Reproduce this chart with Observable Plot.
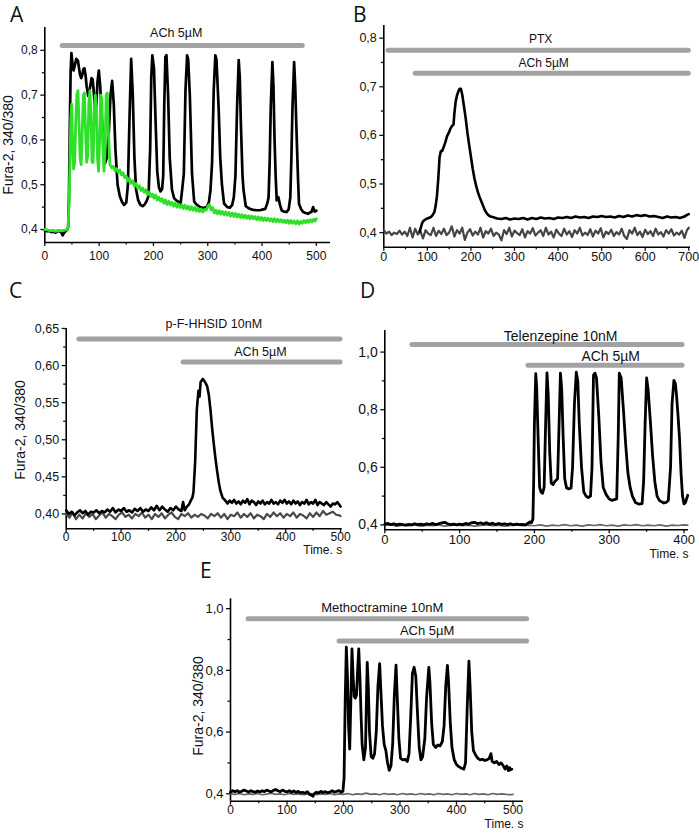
<!DOCTYPE html>
<html>
<head>
<meta charset="utf-8">
<script src="https://cdn.jsdelivr.net/npm/d3@7"></script>
<script src="https://cdn.jsdelivr.net/npm/@observablehq/plot@0.6"></script>
<style>
  html, body { margin: 0; padding: 0; background: #fff; }
  #fig { position: relative; width: 699px; height: 833px; overflow: hidden; background: #fff; }
  .panel { position: absolute; }
  .letter { position: absolute; font-family: "Open Sans", "Noto Sans", sans-serif; font-size: 21px; line-height: 21px; color: #111; }
  .ylab { position: absolute; font-family: Arial, "Liberation Sans", sans-serif; font-size: 14px; color: #111; white-space: nowrap; transform: translate(-50%, -50%) rotate(-90deg); }
</style>
</head>
<body>
<div id="fig"></div>
<script>
// ---------------- DATA ----------------
// Panel A: ACh 5µM, black and green cells
const A_black = [[0,.398],[4,.396],[8,.397],[12,.394],[16,.395],[20,.393],[24,.396],[27,.397],[30,.394],[33,.387],[35,.392],[38,.396],[41,.399],[43,.405],[44.5,.47],[46,.62],[47.5,.75],[49,.794],[51,.77],[53,.755],[55,.765],[58,.781],[61,.777],[63,.76],[65,.745],[67,.738],[69,.745],[71,.758],[73,.76],[75,.745],[77,.72],[80,.698],[83,.715],[86,.738],[88,.735],[90,.71],[93,.66],[95,.68],[97,.73],[99.5,.755],[102,.72],[105,.65],[108,.59],[111,.548],[114,.56],[118,.62],[121,.70],[124,.732],[127,.68],[130,.58],[134,.50],[138,.475],[142,.462],[146,.455],[150,.46],[153,.50],[156,.65],[159,.781],[162,.70],[165,.56],[168,.49],[172,.465],[176,.455],[180,.452],[184,.456],[188,.465],[191,.475],[194,.58],[196,.74],[198,.789],[201,.76],[204,.64],[207,.53],[210,.495],[213,.485],[216,.49],[218,.52],[220,.68],[222,.785],[224,.789],[227,.70],[230,.56],[234,.49],[238,.47],[242,.465],[246,.462],[250,.458],[253,.49],[256,.525],[259,.71],[262,.789],[264,.78],[267,.70],[271,.525],[275,.462],[280,.455],[286,.45],[292,.448],[298,.45],[302,.46],[305,.487],[308,.55],[311,.711],[314,.789],[316,.78],[320,.673],[323,.56],[326,.502],[330,.458],[336,.45],[341,.449],[345,.455],[348,.472],[351,.52],[354,.673],[357,.778],[359,.74],[361,.636],[364,.52],[366,.487],[370,.452],[375,.448],[380,.445],[384,.444],[390,.443],[396,.443],[402,.445],[406,.446],[410,.46],[412,.472],[414,.55],[416,.673],[419,.774],[421,.72],[423,.60],[425,.52],[427,.465],[430,.472],[433,.455],[436,.443],[440,.44],[445,.439],[449,.445],[452,.472],[454,.56],[456,.673],[459,.774],[461,.72],[463,.636],[466,.52],[468,.457],[472,.445],[476,.439],[480,.437],[485,.435],[488,.438],[491,.439],[494,.45],[497,.44],[500,.442]];
const A_green = [[0,.40],[5,.399],[10,.397],[15,.398],[20,.396],[25,.398],[30,.397],[35,.398],[40,.399],[43,.405],[45,.47],[46.5,.56],[48,.65],[49.5,.68],[51,.60],[53,.535],[55,.55],[57,.64],[59,.70],[61,.71],[63,.64],[65,.56],[67,.545],[69,.62],[71,.70],[73,.705],[75,.62],[77,.55],[79,.565],[81,.68],[83,.71],[85,.66],[87,.55],[89,.55],[91,.66],[93,.70],[95,.67],[97,.56],[99,.53],[101,.60],[103,.70],[105,.69],[107,.58],[109,.53],[111,.58],[113,.70],[115,.705],[117,.62],[120,.545],[123,.538],[126,.541],[129,.532],[132,.536],[135,.528],[138,.533],[141,.522],[144,.527],[147,.516],[150,.519],[153,.508],[156,.514],[159,.503],[162,.509],[165,.497],[168,.503],[171,.492],[174,.498],[177,.487],[180,.493],[183,.483],[186,.489],[189,.478],[192,.484],[195,.474],[198,.479],[201,.47],[204,.477],[207,.466],[210,.472],[213,.463],[216,.469],[219,.459],[222,.466],[225,.456],[228,.463],[231,.455],[234,.461],[237,.452],[240,.459],[243,.45],[246,.457],[249,.449],[252,.456],[255,.447],[258,.454],[261,.446],[264,.452],[267,.444],[270,.451],[273,.443],[276,.449],[279,.441],[282,.448],[285,.44],[288,.446],[291,.439],[294,.445],[297,.443],[300,.452],[303,.456],[306,.444],[309,.449],[312,.437],[315,.443],[318,.435],[321,.442],[324,.434],[327,.44],[330,.433],[333,.439],[336,.432],[339,.438],[342,.43],[345,.437],[348,.429],[351,.436],[354,.428],[357,.434],[360,.427],[363,.433],[366,.426],[369,.432],[372,.425],[375,.431],[378,.424],[381,.43],[384,.424],[387,.429],[390,.422],[393,.428],[396,.421],[399,.427],[402,.42],[405,.426],[408,.42],[411,.425],[414,.419],[417,.424],[420,.418],[423,.424],[426,.417],[429,.423],[432,.417],[435,.422],[438,.416],[441,.421],[444,.415],[447,.421],[450,.414],[453,.42],[456,.414],[459,.419],[462,.413],[465,.419],[468,.412],[471,.418],[474,.414],[477,.42],[480,.415],[483,.421],[486,.416],[489,.422],[492,.417],[495,.423],[498,.419],[500,.424]];
const A_bars = [{label: "ACh 5µM", start: 33, end: 475, level: 0.811, labelAt: 242}];

// Panel B: PTX
const B_black = [[82,.402],[85,.41],[88,.42],[92,.425],[97,.428],[103,.43],[108,.432],[112,.436],[116,.442],[119,.455],[122,.475],[125,.51],[128,.555],[131,.568],[134,.568],[137,.575],[141,.585],[145,.598],[149,.605],[153,.614],[157,.62],[160,.622],[162,.645],[165,.67],[168,.682],[171,.69],[174,.696],[177,.696],[180,.684],[184,.66],[188,.635],[192,.605],[196,.58],[200,.556],[204,.532],[208,.512],[212,.496],[216,.483],[220,.473],[224,.464],[228,.455],[232,.446],[236,.44],[240,.436],[245,.433],[250,.432],[260,.429],[270,.428],[280,.43],[290,.427],[300,.429],[310,.428],[320,.43],[330,.427],[340,.43],[350,.428],[360,.431],[370,.429],[380,.43],[390,.428],[400,.431],[410,.43],[420,.432],[430,.43],[440,.433],[450,.431],[460,.432],[470,.43],[480,.433],[490,.432],[500,.434],[510,.432],[520,.433],[530,.431],[540,.434],[550,.432],[560,.435],[570,.433],[580,.436],[590,.434],[600,.436],[610,.433],[620,.434],[630,.432],[640,.43],[650,.433],[660,.431],[670,.432],[680,.43],[690,.433],[695,.436],[700,.438]];
const B_gray = [[0,.405],[6,.398],[12,.402],[18,.395],[24,.40],[30,.397],[36,.404],[42,.396],[48,.402],[54,.393],[60,.41],[66,.39],[72,.408],[78,.396],[84,.403],[90,.388],[96,.405],[102,.398],[108,.395],[114,.41],[120,.393],[126,.404],[132,.397],[138,.408],[144,.395],[150,.40],[156,.413],[162,.392],[168,.405],[174,.398],[180,.41],[186,.385],[192,.40],[198,.407],[204,.394],[210,.402],[216,.396],[222,.41],[228,.39],[234,.403],[240,.398],[246,.408],[252,.393],[258,.40],[264,.396],[270,.384],[276,.405],[282,.397],[288,.41],[294,.392],[300,.404],[306,.399],[312,.395],[318,.407],[324,.39],[330,.403],[336,.398],[342,.409],[348,.394],[354,.40],[360,.405],[366,.393],[372,.41],[378,.396],[384,.402],[390,.39],[396,.406],[402,.398],[408,.393],[414,.408],[420,.396],[426,.403],[432,.391],[438,.405],[444,.398],[450,.41],[456,.394],[462,.40],[468,.395],[474,.407],[480,.392],[486,.404],[492,.398],[498,.409],[504,.39],[510,.402],[516,.397],[522,.406],[528,.393],[534,.401],[540,.396],[546,.408],[552,.393],[558,.387],[564,.405],[570,.398],[576,.41],[582,.395],[588,.402],[594,.391],[600,.406],[606,.397],[612,.403],[618,.393],[624,.408],[630,.396],[636,.401],[642,.392],[648,.405],[654,.398],[660,.407],[666,.394],[672,.40],[678,.396],[684,.404],[690,.389],[696,.405],[700,.41]];
const B_bars = [{label: "PTX", start: 11, end: 700, level: 0.775, labelAt: 360}, {label: "ACh 5µM", start: 73, end: 700, level: 0.728, labelAt: 367}];

// Panel C: p-F-HHSID
const C_black = [[0,.405],[5,.40],[10,.403],[15,.398],[20,.402],[25,.405],[30,.401],[35,.404],[40,.399],[45,.403],[50,.402],[55,.405],[60,.401],[65,.404],[70,.402],[75,.406],[80,.403],[85,.408],[90,.402],[95,.406],[100,.404],[105,.408],[110,.403],[115,.405],[120,.402],[125,.407],[130,.404],[135,.408],[140,.403],[145,.406],[150,.404],[155,.409],[160,.405],[165,.411],[170,.405],[175,.41],[180,.406],[185,.403],[190,.408],[195,.405],[200,.41],[205,.406],[210,.404],[213,.416],[216,.405],[220,.41],[224,.413],[227,.418],[230,.422],[232,.43],[235,.47],[238,.54],[241,.566],[243,.558],[245,.578],[249,.582],[252,.579],[255,.575],[257,.572],[260,.56],[263,.54],[266,.515],[269,.494],[272,.475],[275,.458],[278,.443],[281,.431],[285,.422],[290,.418],[294,.414],[298,.418],[302,.415],[306,.419],[310,.414],[314,.417],[318,.413],[322,.418],[326,.415],[330,.42],[334,.413],[338,.418],[342,.416],[346,.412],[350,.417],[354,.414],[358,.418],[362,.413],[366,.416],[370,.414],[374,.419],[378,.414],[382,.416],[386,.413],[390,.418],[394,.415],[398,.419],[402,.414],[406,.417],[410,.413],[414,.418],[418,.414],[422,.417],[426,.412],[430,.416],[434,.414],[438,.419],[442,.413],[446,.416],[450,.414],[454,.419],[458,.412],[462,.416],[466,.414],[470,.412],[474,.416],[478,.413],[482,.41],[486,.414],[490,.413],[494,.416],[498,.412],[500,.41]];
const C_gray = [[0,.40],[6,.395],[12,.402],[18,.393],[24,.399],[30,.394],[36,.401],[42,.396],[48,.40],[54,.393],[60,.398],[66,.402],[72,.395],[78,.40],[84,.397],[90,.393],[96,.399],[102,.402],[108,.396],[114,.399],[120,.394],[126,.40],[132,.397],[138,.402],[144,.395],[150,.399],[156,.393],[162,.40],[168,.396],[174,.401],[180,.394],[186,.399],[192,.402],[198,.396],[204,.393],[210,.40],[216,.397],[222,.401],[228,.395],[234,.399],[240,.396],[246,.40],[252,.398],[258,.394],[264,.40],[270,.397],[276,.401],[282,.395],[288,.40],[294,.393],[300,.399],[306,.397],[312,.402],[318,.395],[324,.40],[330,.396],[336,.401],[342,.394],[348,.399],[354,.397],[360,.393],[366,.40],[372,.396],[378,.402],[384,.397],[390,.401],[396,.395],[402,.40],[408,.397],[414,.402],[420,.395],[426,.40],[432,.398],[438,.394],[444,.401],[450,.396],[456,.402],[462,.397],[468,.404],[474,.399],[480,.401],[486,.403],[492,.399],[498,.398],[500,.397]];
const C_bars = [{label: "p-F-HHSID 10nM", start: 24, end: 500, level: 0.636, labelAt: 269}, {label: "ACh 5µM", start: 214, end: 500, level: 0.605, labelAt: 354}];

// Panel D: Telenzepine
const D_black = [[0,.402],[4,.405],[8,.401],[12,.404],[16,.40],[20,.403],[24,.401],[28,.399],[32,.402],[36,.40],[40,.404],[44,.401],[48,.403],[52,.40],[56,.404],[60,.402],[64,.405],[68,.401],[72,.404],[76,.407],[80,.409],[84,.404],[88,.401],[92,.403],[96,.40],[100,.403],[104,.401],[108,.405],[112,.402],[116,.408],[120,.409],[124,.404],[128,.407],[132,.403],[136,.408],[140,.402],[144,.406],[148,.401],[152,.405],[156,.402],[160,.404],[164,.401],[168,.404],[172,.40],[176,.403],[180,.401],[184,.402],[188,.40],[191,.405],[194,.41],[196,.408],[198,.42],[199,.55],[200,.75],[201.8,.925],[203,.88],[205,.70],[207,.53],[209,.513],[211,.51],[213,.53],[215,.75],[216.8,.928],[218.5,.85],[220.5,.65],[222.5,.545],[225,.54],[227,.55],[229,.555],[231,.56],[233,.75],[234.8,.927],[236.5,.87],[238.5,.70],[240.5,.56],[243,.528],[246,.525],[249,.528],[251,.60],[253.5,.82],[256,.93],[258,.90],[260,.75],[263,.60],[266,.515],[269,.50],[272,.495],[275,.50],[277,.60],[279,.92],[281,.927],[283,.91],[286,.78],[289,.62],[292,.53],[296,.505],[300,.49],[304,.485],[307,.488],[310,.49],[312,.70],[313.5,.927],[316,.91],[319,.80],[322,.68],[325,.58],[328,.53],[331,.50],[335,.478],[340,.472],[344,.474],[346,.55],[348,.75],[350,.91],[352,.87],[355,.76],[358,.64],[361,.55],[364,.50],[367,.485],[370,.48],[373,.476],[376,.478],[379,.485],[382,.60],[384,.82],[386.5,.902],[388.5,.89],[390,.85],[392,.78],[394,.70],[396,.58],[398,.50],[400,.473],[402,.478],[404,.495],[405,.503]];
const D_gray = [[0,.398],[8,.40],[16,.396],[24,.399],[32,.397],[40,.40],[48,.396],[56,.399],[64,.397],[72,.40],[80,.396],[88,.398],[96,.40],[104,.397],[112,.399],[120,.396],[128,.398],[136,.40],[144,.397],[152,.399],[160,.396],[168,.398],[176,.40],[184,.397],[192,.399],[200,.397],[208,.40],[216,.396],[224,.399],[232,.397],[240,.401],[248,.397],[256,.399],[264,.396],[272,.40],[280,.398],[288,.401],[296,.397],[304,.399],[312,.396],[320,.40],[328,.398],[336,.401],[344,.397],[352,.399],[360,.397],[368,.40],[376,.396],[384,.399],[392,.398],[400,.40],[405,.399]];
const D_bars = [{label: "Telenzepine 10nM", start: 37, end: 398, level: 1.026, labelAt: 235}, {label: "ACh 5µM", start: 192, end: 398, level: 0.954, labelAt: 302}];

// Panel E: Methoctramine
const E_black = [[0,.405],[4,.41],[8,.407],[12,.41],[16,.405],[20,.408],[24,.412],[28,.409],[32,.406],[36,.41],[40,.407],[44,.405],[48,.409],[52,.406],[56,.41],[60,.407],[64,.412],[68,.409],[72,.406],[76,.411],[80,.414],[84,.41],[88,.407],[92,.412],[96,.408],[100,.406],[104,.41],[108,.405],[112,.409],[116,.404],[120,.408],[124,.403],[128,.405],[132,.402],[136,.407],[140,.398],[144,.395],[146,.392],[148,.40],[152,.405],[156,.403],[160,.408],[164,.404],[168,.407],[172,.403],[176,.406],[180,.41],[184,.405],[188,.408],[192,.41],[196,.405],[199,.408],[201,.45],[203,.70],[205,.875],[207,.78],[209,.62],[211,.545],[213,.70],[215,.87],[217,.78],[219,.715],[221,.71],[223,.72],[225,.80],[227,.87],[229,.78],[231,.66],[233,.56],[236,.51],[239,.55],[240.5,.70],[242,.826],[244,.74],[246,.60],[249,.52],[252,.515],[255,.53],[258,.60],[261,.75],[264,.822],[266,.74],[269,.62],[272,.56],[275,.54],[278,.50],[281,.476],[284,.49],[287,.56],[290,.72],[293,.817],[295,.72],[298,.58],[301,.515],[305,.51],[309,.512],[313,.505],[316,.53],[319,.65],[322,.79],[325,.81],[328,.78],[331,.66],[334,.55],[337,.51],[340,.52],[344,.58],[347,.71],[351,.81],[353,.76],[356,.63],[359,.56],[363,.55],[367,.558],[371,.555],[375,.57],[378,.62],[381,.75],[384,.816],[386,.76],[389,.63],[392,.55],[396,.51],[400,.495],[404,.488],[409,.483],[413,.48],[416,.50],[419,.68],[422,.83],[424,.75],[427,.60],[430,.54],[434,.525],[438,.515],[442,.51],[446,.512],[450,.508],[454,.51],[458,.515],[461,.53],[463,.505],[467,.50],[471,.505],[475,.495],[479,.50],[483,.49],[486,.48],[489,.49],[492,.475],[494,.485],[496,.478],[498,.48]];
const E_gray = [[0,.40],[8,.398],[16,.401],[24,.397],[32,.40],[40,.398],[48,.401],[56,.397],[64,.399],[72,.402],[80,.398],[88,.40],[96,.397],[104,.401],[112,.398],[120,.40],[128,.397],[136,.399],[144,.401],[152,.397],[160,.40],[168,.398],[176,.401],[184,.397],[192,.40],[200,.398],[208,.401],[216,.397],[224,.40],[232,.398],[240,.402],[248,.398],[256,.40],[264,.397],[272,.401],[280,.398],[288,.40],[296,.397],[304,.401],[312,.398],[320,.40],[328,.397],[336,.401],[344,.398],[352,.40],[360,.397],[368,.401],[376,.398],[384,.40],[392,.397],[400,.401],[408,.398],[416,.40],[424,.397],[432,.401],[440,.398],[448,.40],[456,.397],[464,.401],[472,.398],[480,.40],[488,.398],[496,.397],[500,.398]];
const E_bars = [{label: "Methoctramine 10nM", start: 32, end: 525, level: 0.967, labelAt: 268.5}, {label: "ACh 5µM", start: 193, end: 525, level: 0.895, labelAt: 348}];

// Tick values
const ticks100_500 = [0, 100, 200, 300, 400, 500];
const minor50_500 = [50, 150, 250, 350, 450];
const ticks100_700 = [0, 100, 200, 300, 400, 500, 600, 700];
const minor50_700 = [50, 150, 250, 350, 450, 550, 650];
const ticks100_400 = [0, 100, 200, 300, 400];
const minor50_400 = [50, 150, 250, 350];
const yTicksAB = [0.4, 0.5, 0.6, 0.7, 0.8];
const yMinorAB = [0.45, 0.55, 0.65, 0.75];
const yTicksC = [0.40, 0.45, 0.50, 0.55, 0.60, 0.65];
const yMinorC = [0.425, 0.475, 0.525, 0.575, 0.625];
const yTicksDE = [0.4, 0.6, 0.8, 1.0];
const yMinorDE = [0.5, 0.7, 0.9];

// ---------------- DRAWING ----------------
const fig = document.getElementById("fig");
const comma = (n) => (d) => d.toFixed(n).replace(".", ",");
const FONT = "Arial, 'Liberation Sans', Helvetica, sans-serif";
const xy = {x: (d) => d[0], y: (d) => d[1]};

function panel(cfg) {
  const marks = [
    Plot.axisX({ticks: cfg.xTicks, tickSize: 4, tickPadding: cfg.xPad, tickFormat: (d) => String(d), label: null, strokeWidth: 1.3, fontSize: cfg.xFont}),
    Plot.axisX({ticks: cfg.xMinor, tickSize: 2.5, tickFormat: () => "", label: null, strokeWidth: 1.3}),
    Plot.axisY({ticks: cfg.yTicks, tickSize: 4, tickPadding: 3, tickFormat: comma(cfg.yDigits), label: null, strokeWidth: 1.3}),
    Plot.axisY({ticks: cfg.yMinor, tickSize: 2.5, tickFormat: () => "", label: null, strokeWidth: 1.3}),
    Plot.ruleX([cfg.xDomain[0]], {stroke: "#000", strokeWidth: 1.6}),
    Plot.ruleY([cfg.yDomain[0]], {stroke: "#000", strokeWidth: 1.6}),
    Plot.ruleY(cfg.bars, {y: "level", x1: "start", x2: "end", stroke: "#a2a2a2", strokeWidth: 5, strokeLinecap: "round"}),
    ...cfg.bars.map((b, i) => Plot.text([b], {x: "labelAt", y: "level", text: "label", dy: cfg.labelDy[i], fontSize: cfg.labelSize, fill: "#111"})),
    ...cfg.series.map((s) => Plot.line(s.data, {...xy, stroke: s.color, strokeWidth: s.width, strokeLinejoin: "round"}))
  ];
  if (cfg.timeLabel) {
    marks.push(Plot.text(["Time. s"], {frameAnchor: "bottom-right", textAnchor: "end", dy: cfg.timeDy, fontSize: 12, fill: "#111"}));
  }
  const svg = Plot.plot({
    width: cfg.width, height: cfg.height,
    marginLeft: cfg.mL, marginRight: cfg.mR, marginTop: cfg.mT, marginBottom: cfg.mB,
    x: {domain: cfg.xDomain},
    y: {domain: cfg.yDomain},
    style: {fontFamily: FONT, fontSize: cfg.fontSize + "px", color: "#111", background: "transparent", overflow: "visible"},
    marks
  });
  const wrap = document.createElement("div");
  wrap.className = "panel";
  wrap.style.left = cfg.left + "px";
  wrap.style.top = cfg.top + "px";
  wrap.appendChild(svg);
  fig.appendChild(wrap);
}

panel({left: 0, top: 0, width: 345, height: 275, mL: 44.3, mR: 15, mT: 27, mB: 33,
  xDomain: [0, 526], yDomain: [0.371, 0.851], xTicks: ticks100_500, xMinor: minor50_500,
  yTicks: yTicksAB, yMinor: yMinorAB, yDigits: 1, xPad: 5, fontSize: 12, xFont: 12,
  bars: A_bars, labelDy: [-12], labelSize: 12.5,
  series: [{data: A_black, color: "#000", width: 2.7}, {data: A_green, color: "#2fe02a", width: 2.8}]});

panel({left: 345, top: 0, width: 354, height: 275, mL: 38.3, mR: 9, mT: 25, mB: 28.3,
  xDomain: [0, 704], yDomain: [0.370, 0.826], xTicks: ticks100_700, xMinor: minor50_700,
  yTicks: yTicksAB, yMinor: yMinorAB, yDigits: 1, xPad: 1, fontSize: 12.5, xFont: 12.5,
  bars: B_bars, labelDy: [-11, -10], labelSize: 12,
  series: [{data: B_gray, color: "#454545", width: 2.2}, {data: B_black, color: "#000", width: 2.6}]});

panel({left: 0, top: 300, width: 350, height: 260, mL: 65.7, mR: 8.3, mT: 28, mB: 31.7,
  xDomain: [0, 503], yDomain: [0.38, 0.65], xTicks: ticks100_500, xMinor: minor50_500,
  yTicks: yTicksC, yMinor: yMinorC, yDigits: 2, xPad: 0, fontSize: 12.5, xFont: 12,
  bars: C_bars, labelDy: [-15, -9.5], labelSize: 12.5, timeLabel: true, timeDy: 25.5,
  series: [{data: C_gray, color: "#4a4a4a", width: 2.2}, {data: C_black, color: "#000", width: 2.6}]});

panel({left: 350, top: 300, width: 349, height: 260, mL: 34.3, mR: 11, mT: 30, mB: 30.7,
  xDomain: [0, 406], yDomain: [0.383, 1.075], xTicks: ticks100_400, xMinor: minor50_400,
  yTicks: yTicksDE, yMinor: yMinorDE, yDigits: 1, xPad: 1, fontSize: 14, xFont: 13,
  bars: D_bars, labelDy: [-8, -8.5], labelSize: 14, timeLabel: true, timeDy: 28,
  series: [{data: D_gray, color: "#666", width: 1.7}, {data: D_black, color: "#000", width: 2.8}]});

panel({left: 180, top: 560, width: 360, height: 273, mL: 50, mR: 17, mT: 38.3, mB: 32.3,
  xDomain: [0, 518.6], yDomain: [0.376, 1.032], xTicks: ticks100_500, xMinor: minor50_500,
  yTicks: yTicksDE, yMinor: yMinorDE, yDigits: 1, xPad: 0, fontSize: 13, xFont: 12,
  bars: E_bars, labelDy: [-11.5, -10.5], labelSize: 13, timeLabel: true, timeDy: 26.5,
  series: [{data: E_gray, color: "#666", width: 1.7}, {data: E_black, color: "#000", width: 2.8}]});

// Panel letters and y-axis titles
const letters = [["A", 10, 4], ["B", 353, 4], ["C", 9, 280], ["D", 360, 280], ["E", 200, 560]];
for (const [t, x, y] of letters) {
  const d = document.createElement("div");
  d.className = "letter"; d.textContent = t;
  d.style.left = x + "px"; d.style.top = y + "px";
  fig.appendChild(d);
}
const ylabs = [[8, 145], [20, 430], [198, 706]];
for (const [x, y] of ylabs) {
  const d = document.createElement("div");
  d.className = "ylab"; d.textContent = "Fura-2, 340/380";
  d.style.left = x + "px"; d.style.top = y + "px";
  fig.appendChild(d);
}
</script>
</body>
</html>
